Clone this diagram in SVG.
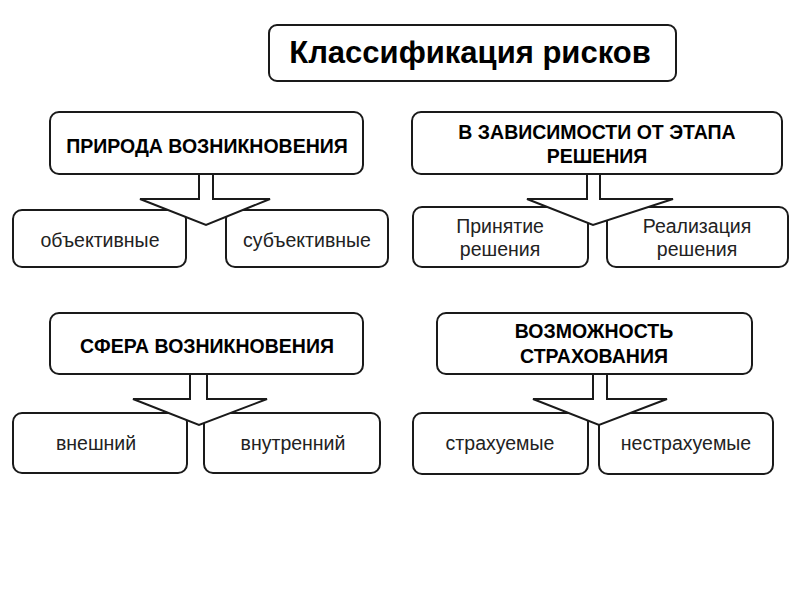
<svg xmlns="http://www.w3.org/2000/svg" width="800" height="600" viewBox="0 0 800 600">
<style>
.box{fill:#fff;stroke:#1a1a1a;stroke-width:2}
.arr{fill:#fff;stroke:#1a1a1a;stroke-width:2;stroke-linejoin:miter}
.title{font-family:"Liberation Sans",Arial,sans-serif;font-weight:bold;font-size:31px;fill:#000;text-anchor:middle}
.hd{font-family:"Liberation Sans",Arial,sans-serif;font-weight:bold;font-size:19.5px;fill:#000;text-anchor:middle}
.ch{font-family:"Liberation Sans",Arial,sans-serif;font-size:19.5px;fill:#222;text-anchor:middle}
</style>
<rect width="800" height="600" fill="#fff"/>
<g id="title">
<rect class="box" x="269" y="25" width="407" height="56" rx="8"/>
<text class="title" x="470" y="63">Классификация рисков</text>
</g>
<g id="n1">
<rect class="box" x="50" y="112" width="313" height="62" rx="9"/>
<text class="hd" x="207" y="153">ПРИРОДА ВОЗНИКНОВЕНИЯ</text>
</g>
<g id="n1a">
<rect class="box" x="13" y="210" width="173" height="57" rx="9"/>
<text class="ch" x="100" y="247">объективные</text>
</g>
<g id="n1b">
<rect class="box" x="226" y="210" width="162" height="57" rx="9"/>
<text class="ch" x="307" y="247">субъективные</text>
</g>
<g id="n2">
<rect class="box" x="412" y="112" width="370" height="62" rx="9"/>
<text class="hd" x="597" y="139">В ЗАВИСИМОСТИ ОТ ЭТАПА</text>
<text class="hd" x="597" y="163">РЕШЕНИЯ</text>
</g>
<g id="n2a">
<rect class="box" x="413" y="207" width="175" height="60" rx="9"/>
<text class="ch" x="500" y="233">Принятие</text>
<text class="ch" x="500" y="256">решения</text>
</g>
<g id="n2b">
<rect class="box" x="607" y="207" width="181" height="60" rx="9"/>
<text class="ch" x="697" y="233">Реализация</text>
<text class="ch" x="697" y="256">решения</text>
</g>
<g id="n3">
<rect class="box" x="50" y="313" width="313" height="61" rx="9"/>
<text class="hd" x="207" y="353">СФЕРА ВОЗНИКНОВЕНИЯ</text>
</g>
<g id="n3a">
<rect class="box" x="13" y="413" width="174" height="60" rx="9"/>
<text class="ch" x="96" y="450">внешний</text>
</g>
<g id="n3b">
<rect class="box" x="204" y="413" width="176" height="60" rx="9"/>
<text class="ch" x="293" y="450">внутренний</text>
</g>
<g id="n4">
<rect class="box" x="437" y="313" width="315" height="61" rx="9"/>
<text class="hd" x="594" y="338">ВОЗМОЖНОСТЬ</text>
<text class="hd" x="594" y="363">СТРАХОВАНИЯ</text>
</g>
<g id="n4a">
<rect class="box" x="413" y="413" width="175" height="61" rx="9"/>
<text class="ch" x="500" y="450">страхуемые</text>
</g>
<g id="n4b">
<rect class="box" x="599" y="413" width="174" height="61" rx="9"/>
<text class="ch" x="686" y="450">нестрахуемые</text>
</g>
<g id="connectors">
<polygon class="arr" points="199,174 213,174 213,199 270,199 206,225 140,199 199,199"/>
<polygon class="arr" points="587,174 600,174 600,199 673,199 593,225 527,199 587,199"/>
<polygon class="arr" points="190,374 207,374 207,399 267,399 199,425 133,399 190,399"/>
<polygon class="arr" points="593,374 607,374 607,399 667,399 599,425 533,399 593,399"/>
</g>
</svg>
